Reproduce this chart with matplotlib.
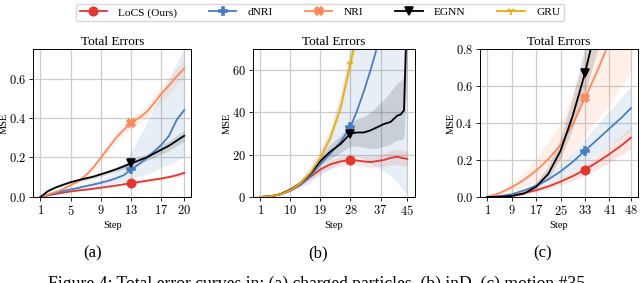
import matplotlib
matplotlib.use("Agg")
import matplotlib.pyplot as plt
from matplotlib.lines import Line2D

plt.rcParams['font.family'] = ['Liberation Serif', 'DejaVu Serif']
plt.rcParams['mathtext.fontset'] = 'cm'
plt.rcParams['font.size'] = 8

# ---- data ----
names = ['LoCS (Ours)', 'dNRI', 'NRI', 'EGNN', 'GRU']
colors = {'LoCS (Ours)': '#e2372e', 'dNRI': '#4a7dbf', 'NRI': '#fc8a5c',
          'EGNN': '#000000', 'GRU': '#ebab0c'}
markers = {'LoCS (Ours)': 'o', 'dNRI': 'P', 'NRI': 'X', 'EGNN': 'v', 'GRU': '1'}

# (a) charged particles
steps_a = list(range(1, 21))
a_locs = [0, 0.008, 0.015, 0.022, 0.028, 0.033, 0.037, 0.042, 0.047, 0.053,
          0.058, 0.064, 0.070, 0.076, 0.082, 0.088, 0.094, 0.101, 0.110, 0.122]
a_locs_lo = [0, 0.007, 0.013, 0.019, 0.025, 0.029, 0.033, 0.037, 0.042, 0.047,
             0.052, 0.057, 0.063, 0.069, 0.074, 0.080, 0.086, 0.092, 0.100, 0.111]
a_locs_hi = [0, 0.009, 0.017, 0.025, 0.031, 0.037, 0.041, 0.047, 0.052, 0.059,
             0.064, 0.071, 0.077, 0.083, 0.090, 0.096, 0.102, 0.110, 0.120, 0.133]
a_dnri = [0, 0.010, 0.020, 0.030, 0.038, 0.046, 0.055, 0.063, 0.072, 0.082,
          0.095, 0.110, 0.140, 0.165, 0.195, 0.230, 0.265, 0.310, 0.390, 0.440]
a_dnri_lo = [0, 0.008, 0.016, 0.024, 0.030, 0.036, 0.043, 0.049, 0.056, 0.062,
             0.070, 0.078, 0.095, 0.105, 0.115, 0.130, 0.150, 0.165, 0.185, 0.200]
a_dnri_hi = [0, 0.012, 0.024, 0.036, 0.046, 0.056, 0.067, 0.077, 0.088, 0.105,
             0.130, 0.170, 0.230, 0.300, 0.370, 0.450, 0.530, 0.600, 0.680, 0.750]
a_nri = [0, 0.012, 0.025, 0.040, 0.060, 0.080, 0.110, 0.150, 0.200, 0.250,
         0.300, 0.340, 0.375, 0.400, 0.430, 0.475, 0.525, 0.565, 0.610, 0.650]
a_nri_lo = [0, 0.010, 0.021, 0.034, 0.052, 0.070, 0.097, 0.134, 0.181, 0.228,
            0.276, 0.314, 0.347, 0.370, 0.398, 0.440, 0.488, 0.525, 0.568, 0.605]
a_nri_hi = [0, 0.014, 0.029, 0.046, 0.068, 0.090, 0.123, 0.166, 0.219, 0.272,
            0.324, 0.366, 0.403, 0.430, 0.462, 0.510, 0.562, 0.605, 0.652, 0.695]
a_egnn = [0, 0.030, 0.048, 0.062, 0.075, 0.085, 0.094, 0.103, 0.115, 0.127,
          0.140, 0.155, 0.170, 0.185, 0.200, 0.220, 0.240, 0.260, 0.285, 0.310]
a_egnn_lo = [0, 0.026, 0.043, 0.056, 0.068, 0.077, 0.085, 0.093, 0.104, 0.115,
             0.127, 0.141, 0.155, 0.168, 0.182, 0.200, 0.218, 0.236, 0.259, 0.282]
a_egnn_hi = [0, 0.034, 0.053, 0.068, 0.082, 0.093, 0.103, 0.113, 0.126, 0.139,
             0.153, 0.169, 0.185, 0.202, 0.218, 0.240, 0.262, 0.284, 0.311, 0.338]

# (b) inD
steps_b = [1, 4, 7, 10, 13, 16, 19, 22, 25, 28, 30, 32, 34, 36, 38, 40, 42, 43, 44, 45]
b_locs = [0, 0.3, 1.2, 3.0, 5.8, 9.5, 13.0, 15.5, 16.8, 17.5,
          17.2, 16.8, 16.5, 17.0, 17.5, 18.5, 19.0, 18.6, 18.3, 18.0]
b_locs_lo = [0, 0.2, 1.0, 2.6, 5.0, 8.3, 11.5, 13.5, 14.5, 15.5,
             15.0, 14.5, 14.0, 14.3, 14.5, 15.0, 15.3, 15.0, 14.8, 14.5]
b_locs_hi = [0, 0.4, 1.4, 3.4, 6.6, 10.7, 14.5, 17.5, 19.0, 19.5,
             19.5, 19.3, 19.2, 19.8, 20.5, 22.0, 22.7, 22.3, 22.0, 21.5]
b_dnri = [0, 0.3, 1.2, 3.0, 5.8, 10.0, 15.5, 20.5, 26.0, 33.0,
          41.0, 50.0, 60.0, 71.0, 84.0, 98.0, 112.0, 120.0, 128.0, 136.0]
b_dnri_lo = [0, 0.2, 0.8, 2.0, 4.0, 6.5, 10.0, 13.0, 16.0, 19.0,
             19.0, 18.0, 16.0, 14.0, 12.0, 10.0, 7.0, 5.0, 3.0, 1.0]
b_dnri_hi = [0, 0.4, 1.6, 4.0, 8.0, 14.0, 22.0, 32.0, 48.0, 70.0,
             90.0, 110.0, 130.0, 150.0, 170.0, 190.0, 210.0, 220.0, 230.0, 240.0]
b_egnn = [0, 0.3, 1.3, 3.5, 6.5, 11.0, 17.0, 21.5, 25.0, 30.0,
          30.5, 30.5, 31.5, 33.0, 34.5, 35.5, 38.5, 39.0, 41.0, 95.0]
b_egnn_lo = [0, 0.2, 1.0, 3.0, 5.5, 9.5, 15.0, 18.0, 21.0, 24.0,
             24.0, 23.5, 23.0, 23.0, 24.0, 25.0, 27.0, 27.0, 28.0, 60.0]
b_egnn_hi = [0, 0.4, 1.6, 4.0, 7.5, 12.5, 19.0, 25.0, 29.0, 35.0,
             37.0, 38.0, 40.0, 43.0, 46.0, 50.0, 54.0, 55.0, 57.0, 120.0]
b_gru = [0, 0.3, 1.2, 3.2, 6.5, 11.5, 18.5, 28.0, 42.0, 63.0,
         78.0, 95.0, 115.0, 135.0, 155.0, 175.0, 185.0, 195.0, 205.0, 215.0]
b_gru_lo = [0, 0.2, 1.0, 2.8, 5.8, 10.3, 16.8, 25.5, 38.5, 58.0,
            72.0, 88.0, 107.0, 126.0, 145.0, 164.0, 174.0, 183.0, 193.0, 202.0]
b_gru_hi = [0, 0.4, 1.4, 3.6, 7.2, 12.7, 20.2, 30.5, 45.5, 68.0,
            84.0, 102.0, 123.0, 144.0, 165.0, 186.0, 196.0, 207.0, 217.0, 228.0]

# (c) motion #35
steps_c = [1, 5, 9, 13, 17, 21, 25, 29, 33, 37, 41, 45, 48]
c_locs = [0, 0.002, 0.009, 0.021, 0.036, 0.057, 0.083, 0.113, 0.148, 0.188, 0.232, 0.280, 0.320]
c_locs_lo = [0, 0.001, 0.006, 0.015, 0.027, 0.043, 0.064, 0.088, 0.117, 0.150, 0.188, 0.228, 0.262]
c_locs_hi = [0, 0.003, 0.012, 0.027, 0.045, 0.071, 0.102, 0.138, 0.179, 0.226, 0.276, 0.332, 0.378]
c_dnri = [0, 0.004, 0.015, 0.035, 0.060, 0.095, 0.138, 0.190, 0.250, 0.310, 0.370, 0.430, 0.480]
c_dnri_lo = [0, 0.003, 0.011, 0.025, 0.043, 0.068, 0.100, 0.140, 0.185, 0.230, 0.275, 0.320, 0.360]
c_dnri_hi = [0, 0.005, 0.019, 0.045, 0.077, 0.122, 0.176, 0.240, 0.315, 0.390, 0.465, 0.540, 0.600]
c_nri = [0, 0.020, 0.052, 0.092, 0.142, 0.205, 0.280, 0.395, 0.535, 0.680, 0.840, 1.000, 1.120]
c_nri_lo = [0, 0.010, 0.030, 0.055, 0.080, 0.120, 0.170, 0.240, 0.330, 0.420, 0.500, 0.600, 0.680]
c_nri_hi = [0, 0.030, 0.075, 0.130, 0.210, 0.300, 0.400, 0.560, 0.740, 0.940, 1.150, 1.350, 1.500]
c_egnn = [0, 0.001, 0.005, 0.018, 0.055, 0.125, 0.250, 0.440, 0.670, 0.950, 1.300, 1.700, 2.000]
c_egnn_lo = [0, 0.000, 0.003, 0.012, 0.040, 0.095, 0.200, 0.360, 0.550, 0.780, 1.050, 1.400, 1.700]
c_egnn_hi = [0, 0.002, 0.008, 0.025, 0.075, 0.160, 0.310, 0.530, 0.800, 1.100, 1.500, 2.000, 2.300]

panels = [
    dict(x=steps_a, mark=13, ylim=(0, 0.75), yticks=[0.0, 0.2, 0.4, 0.6],
         xticks=[1, 5, 9, 13, 17, 20], tag='(a)', tag_x=93,
         series={'LoCS (Ours)': (a_locs, a_locs_lo, a_locs_hi),
                 'dNRI': (a_dnri, a_dnri_lo, a_dnri_hi),
                 'NRI': (a_nri, a_nri_lo, a_nri_hi),
                 'EGNN': (a_egnn, a_egnn_lo, a_egnn_hi)}),
    dict(x=steps_b, mark=28, ylim=(0, 70), yticks=[0, 20, 40, 60],
         xticks=[1, 10, 19, 28, 37, 45], tag='(b)', tag_x=318,
         series={'LoCS (Ours)': (b_locs, b_locs_lo, b_locs_hi),
                 'dNRI': (b_dnri, b_dnri_lo, b_dnri_hi),
                 'EGNN': (b_egnn, b_egnn_lo, b_egnn_hi),
                 'GRU': (b_gru, b_gru_lo, b_gru_hi)}),
    dict(x=steps_c, mark=33, ylim=(0, 0.8), yticks=[0.0, 0.2, 0.4, 0.6, 0.8],
         xticks=[1, 9, 17, 25, 33, 41, 48], tag='(c)', tag_x=543,
         series={'LoCS (Ours)': (c_locs, c_locs_lo, c_locs_hi),
                 'dNRI': (c_dnri, c_dnri_lo, c_dnri_hi),
                 'NRI': (c_nri, c_nri_lo, c_nri_hi),
                 'EGNN': (c_egnn, c_egnn_lo, c_egnn_hi)}),
]

fig = plt.figure(figsize=(6.4, 2.83), dpi=100)
boxes = [[0.052, 0.304, 0.247, 0.523],
         [0.395, 0.304, 0.253, 0.523],
         [0.750, 0.304, 0.247, 0.523]]

for p, box in zip(panels, boxes):
    ax = fig.add_axes(box)
    ax.grid(True, color='#cccccc', linewidth=0.9)
    ax.set_axisbelow(True)
    idx = p['x'].index(p['mark'])
    for name, (mean, lo, hi) in p['series'].items():
        c = colors[name]
        ax.fill_between(p['x'], lo, hi, color=c, alpha=0.13, linewidth=0)
        ax.plot(p['x'], mean, color=c, linewidth=1.3, marker=markers[name],
                markevery=[idx], markersize=6, markeredgewidth=1.2)
    ax.set_ylim(*p['ylim'])
    ax.set_yticks(p['yticks'])
    if p['ylim'][1] < 1:
        ax.set_yticklabels(['$%.1f$' % v for v in p['yticks']])
    else:
        ax.set_yticklabels(['$%d$' % v for v in p['yticks']])
    ax.set_xticks(p['xticks'])
    ax.set_xticklabels(['$%d$' % v for v in p['xticks']])
    ax.margins(x=0.05)
    ax.tick_params(labelsize=9, length=3, width=0.6, pad=2)
    for s in ax.spines.values():
        s.set_linewidth(0.7)
    ax.set_title('Total Errors', fontsize=9.5, pad=3)
    ax.set_xlabel('Step', fontsize=7.5, labelpad=2)
    ax.set_ylabel('MSE', fontsize=7.5, labelpad=0)
    fig.text(p['tag_x'] / 640, 0.106, p['tag'], ha='center', va='center', fontsize=12)

handles = [Line2D([], [], color=colors[n], marker=markers[n], linewidth=1.3,
                  markersize=6, markeredgewidth=1.2) for n in names]
fig.legend(handles, names, loc='center', bbox_to_anchor=(0.5, 0.956), ncol=5,
           fontsize=8.2, frameon=True, fancybox=True, edgecolor='#cccccc',
           columnspacing=2.8, handlelength=2.4, handletextpad=1.0,
           borderpad=0.3)

fig.text(48 / 640, 0.025, 'Figure 4: Total error curves in: (a) charged particles, (b) inD, (c) motion #35.',
         ha='left', va='top', fontsize=12.7)

fig.savefig('out.png', dpi=100)
